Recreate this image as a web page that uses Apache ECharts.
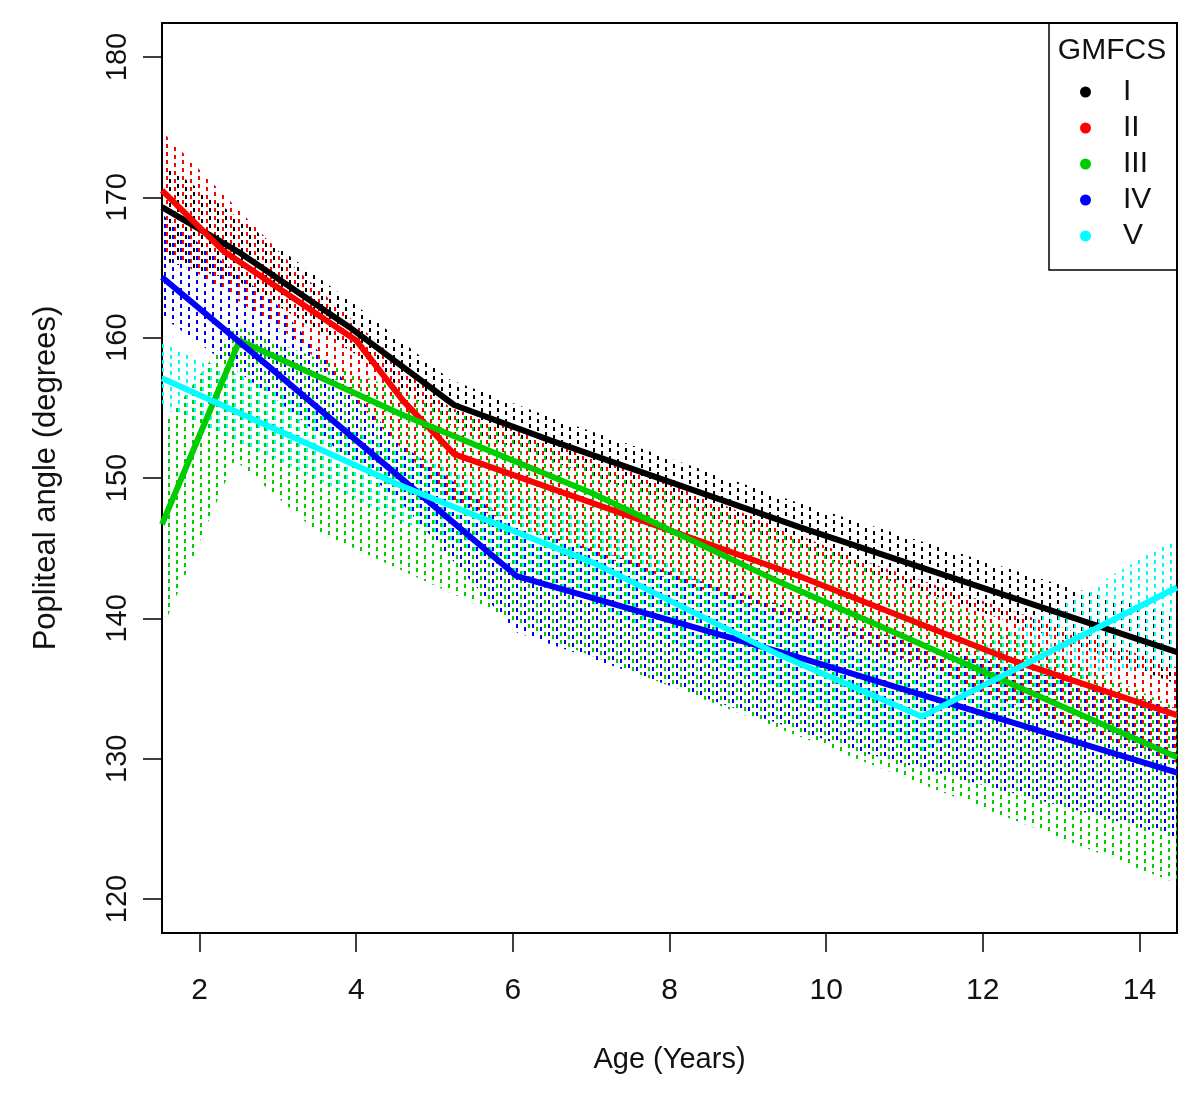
<!DOCTYPE html>
<html>
<head>
<meta charset="utf-8">
<script src="https://cdn.jsdelivr.net/npm/echarts@6/dist/echarts.min.js"></script>
<style>
  html, body { margin: 0; padding: 0; background: #fff; }
  #main { width: 1200px; height: 1093px; }
</style>
</head>
<body>
<div id="main"></div>
<script>
// fitted curves, age (years) vs popliteal angle (degrees)
const groupNames = ['I', 'II', 'III', 'IV', 'V']
const groupColors = ['#000000', '#ff0000', '#00cd00', '#0000ff', '#00ffff']

const ageI = [1.52, 2.5, 3.9, 5.25, 6.47, 9.66, 14.48]
const angleI = [169.3, 166.1, 160.8, 155.2, 152.7, 146.5, 137.6]
const ageII = [1.52, 2.3, 4.0, 4.6, 5.25, 9.66, 12.38, 14.48]
const angleII = [170.5, 166.2, 159.8, 155.5, 151.7, 143.0, 137.0, 133.1]
const ageIII = [1.52, 2.51, 4.55, 7.02, 9.4, 12.09, 14.48]
const angleIII = [146.7, 159.8, 154.6, 148.9, 142.6, 136.0, 130.1]
const ageIV = [1.52, 3.0, 4.59, 6.05, 9.66, 14.48]
const angleIV = [164.3, 157.4, 149.9, 143.0, 137.2, 129.0]
const ageV = [1.52, 4.55, 7.05, 9.4, 11.22, 14.48]
const angleV = [157.1, 149.5, 143.9, 137.4, 133.0, 142.2]

// shaded bands (lower / upper)
const bandAgeI = [1.52, 2.5, 4.0, 5.2, 6.5, 9.66, 13.04, 14.48]
const bandLoI = [165.5, 164.0, 158.8, 153.8, 151.2, 144.9, 138.4, 135.3]
const bandHiI = [172.5, 168.5, 162.3, 157.0, 154.3, 148.2, 142.3, 140.2]
const bandAgeII = [1.52, 3.27, 5.2, 7.02, 10.43, 13.04, 14.48]
const bandLoII = [166.3, 159.7, 148.5, 144.6, 138.4, 132.4, 129.7]
const bandHiII = [174.7, 164.7, 155.0, 151.8, 144.2, 139.3, 136.5]
const bandAgeIII = [1.52, 2.45, 3.47, 6.6, 10.43, 14.48]
const bandLoIII = [139.2, 151.3, 146.3, 138.2, 129.9, 121.1]
const bandHiIII = [153.6, 160.8, 158.6, 151.8, 144.0, 133.6]
const bandAgeIV = [1.52, 3.0, 4.55, 6.05, 10.43, 14.48]
const bandLoIV = [161.5, 155.5, 148.4, 139.0, 130.5, 124.4]
const bandHiIV = [168.8, 162.3, 152.5, 146.5, 139.3, 133.6]
const bandAgeV = [1.52, 3.0, 4.55, 7.05, 9.4, 11.22, 13.45, 14.48]
const bandLoV = [155.0, 151.3, 147.0, 140.9, 134.8, 130.5, 136.0, 136.5]
const bandHiV = [159.6, 156.2, 152.0, 146.8, 140.0, 135.5, 142.4, 145.8]

const xTicks = [2, 4, 6, 8, 10, 12, 14]
const yTicks = [120, 130, 140, 150, 160, 170, 180]

const lines = [
  [ageI, angleI], [ageII, angleII], [ageIII, angleIII], [ageIV, angleIV], [ageV, angleV]
]
const bands = [
  [bandAgeI, bandLoI, bandHiI],
  [bandAgeII, bandLoII, bandHiII],
  [bandAgeIII, bandLoIII, bandHiIII],
  [bandAgeIV, bandLoIV, bandHiIV],
  [bandAgeV, bandLoV, bandHiV]
]
const hatchOffset = [1, 6, 0, 4, 2]

// dotted vertical hatching like R's lty=3 segments
function makeHatch(color, off) {
  const c = document.createElement('canvas')
  c.width = 16
  c.height = 8
  const ctx = c.getContext('2d')
  ctx.fillStyle = color
  ctx.fillRect(off, 0, 2, 4)
  ctx.fillRect(off + 8, 3, 2, 4)
  return c
}

function bandSeries(i) {
  const [xs, lo, hi] = bands[i]
  const pattern = { image: makeHatch(groupColors[i], hatchOffset[i]), repeat: 'repeat' }
  return {
    type: 'custom',
    name: groupNames[i] + ' band',
    silent: true,
    z: 1,
    data: xs.map((x, k) => [x, lo[k], hi[k]]),
    encode: { x: 0, y: [1, 2] },
    renderItem: function (params, api) {
      if (params.dataIndex !== 0) return null
      const pts = []
      for (let k = 0; k < xs.length; k++) pts.push(api.coord([xs[k], hi[k]]))
      for (let k = xs.length - 1; k >= 0; k--) pts.push(api.coord([xs[k], lo[k]]))
      return { type: 'polygon', shape: { points: pts }, style: { fill: pattern } }
    }
  }
}

function lineSeries(i) {
  const [xs, ys] = lines[i]
  return {
    type: 'line',
    name: groupNames[i],
    z: 3,
    symbol: 'none',
    showSymbol: false,
    data: xs.map((x, k) => [x, ys[k]]),
    itemStyle: { color: groupColors[i] },
    lineStyle: { color: groupColors[i], width: 6 }
  }
}

const font = 'Liberation Sans, Arial, sans-serif'
const series = []
for (let i = 0; i < 5; i++) series.push(bandSeries(i))
for (let i = 0; i < 5; i++) series.push(lineSeries(i))

const option = {
  animation: false,
  backgroundColor: '#fff',
  textStyle: { fontFamily: font, color: '#111' },
  grid: {
    left: 162, right: 23, top: 23, bottom: 160,
    show: true, borderColor: '#000', borderWidth: 2, backgroundColor: 'transparent'
  },
  xAxis: {
    type: 'value',
    min: 1.52,
    max: 14.48,
    name: 'Age (Years)',
    nameLocation: 'middle',
    nameGap: 112,
    nameTextStyle: { fontSize: 29, color: '#111', fontFamily: font },
    axisLine: { show: true, lineStyle: { color: '#000', width: 2 } },
    axisTick: { show: true, length: 19, customValues: xTicks, lineStyle: { color: '#000', width: 1.5 } },
    axisLabel: { customValues: xTicks, fontSize: 30, color: '#111', margin: 43, fontFamily: font },
    splitLine: { show: false }
  },
  yAxis: {
    type: 'value',
    min: 117.58,
    max: 182.42,
    name: 'Popliteal angle (degrees)',
    nameLocation: 'middle',
    nameGap: 100,
    nameTextStyle: { fontSize: 31, color: '#111', fontFamily: font },
    axisLine: { show: true, lineStyle: { color: '#000', width: 2 } },
    axisTick: { show: true, length: 19, customValues: yTicks, lineStyle: { color: '#000', width: 1.5 } },
    axisLabel: { customValues: yTicks, rotate: 90, fontSize: 29, color: '#111', margin: 30, fontFamily: font },
    splitLine: { show: false }
  },
  legend: {
    data: groupNames,
    orient: 'vertical',
    left: 1080,
    top: 74,
    padding: 0,
    itemGap: 0,
    icon: 'circle',
    itemWidth: 11,
    itemHeight: 11,
    selectedMode: false,
    textStyle: { fontSize: 30, lineHeight: 36, color: '#111', fontFamily: font, padding: [0, 0, 0, 27] }
  },
  graphic: [
    {
      type: 'rect',
      shape: { x: 1049, y: 23, width: 128, height: 247 },
      style: { fill: 'none', stroke: '#000', lineWidth: 1.5 },
      z: 10
    },
    {
      type: 'text',
      x: 1112, y: 51,
      style: { text: 'GMFCS', font: '30px ' + font, fill: '#111', textAlign: 'center', textVerticalAlign: 'middle' },
      z: 10
    }
  ],
  series: series
}

const chart = echarts.init(document.getElementById('main'))
chart.setOption(option)
</script>
</body>
</html>
